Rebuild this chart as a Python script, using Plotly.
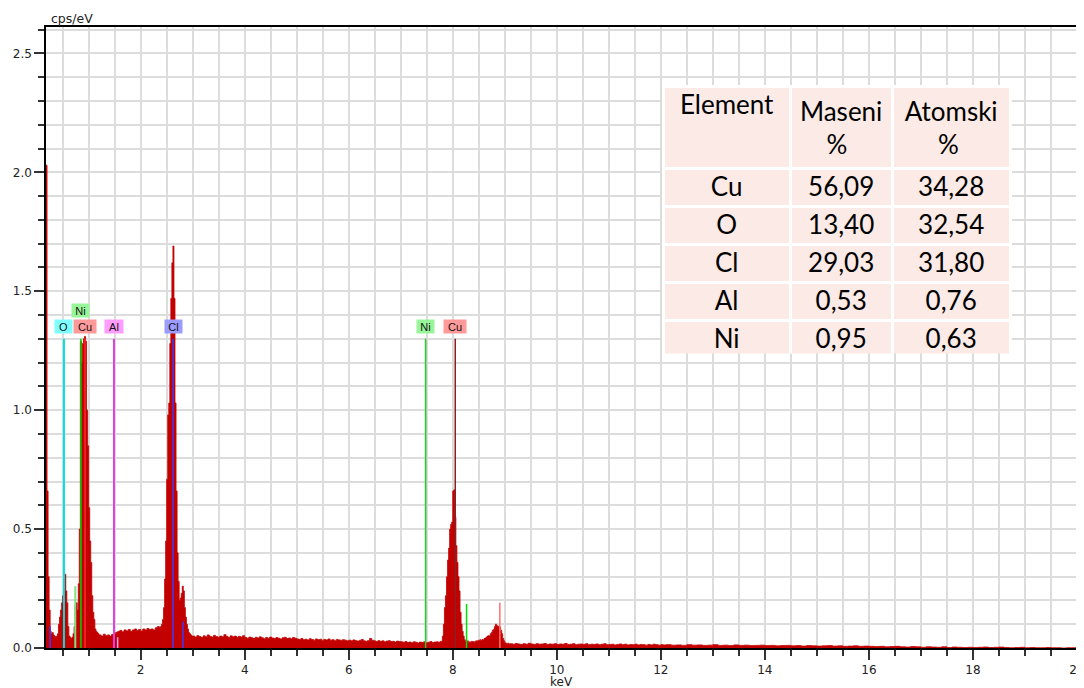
import plotly.graph_objects as go

# ---------------- data ----------------
# spectrum segments: channel start energy (keV), channel width (keV), values (cps/eV)
seg_a_start, seg_a_step = 0.18, 0.02
seg_a_cps = [2.03, 0.66, 0.30, 0.16, 0.07, 0.06, 0.065, 0.055, 0.05, 0.045,
             0.05, 0.06, 0.10, 0.13, 0.16, 0.19, 0.22, 0.25, 0.31, 0.24,
             0.19, 0.09, 0.05, 0.045, 0.04, 0.045, 0.06, 0.09, 0.18, 0.19,
             0.16, 0.27, 0.50, 1.29, 1.20, 1.28, 1.30, 1.31, 1.29, 1.00,
             0.85, 0.59, 0.45, 0.36, 0.22, 0.15, 0.12, 0.08, 0.07, 0.065,
             0.06]
seg_b_start, seg_b_step = 1.20, 0.04
seg_b_cps = [0.055, 0.05, 0.058, 0.052, 0.055, 0.05, 0.057, 0.06, 0.066, 0.07,
             0.074, 0.068, 0.076, 0.072, 0.078, 0.07, 0.076, 0.08, 0.074, 0.078,
             0.072, 0.08, 0.076, 0.082, 0.078, 0.08, 0.076, 0.085, 0.09]
seg_c_start, seg_c_step = 2.36, 0.02
seg_c_cps = [0.085, 0.09, 0.10, 0.12, 0.17, 0.29, 0.45, 0.71, 0.98, 1.03,
             1.28, 1.47, 1.62, 1.69, 1.47, 1.03, 0.66, 0.40, 0.28, 0.20,
             0.21, 0.23, 0.26, 0.24, 0.17, 0.13, 0.10, 0.08, 0.065, 0.06,
             0.055, 0.05]
seg_d_start, seg_d_step = 3.00, 0.04
seg_d_cps = [0.050, 0.046, 0.052, 0.048, 0.044, 0.051, 0.047, 0.055, 0.049, 0.046,
             0.053, 0.048, 0.045, 0.050, 0.047, 0.056, 0.049, 0.044, 0.051, 0.047,
             0.050, 0.045, 0.049, 0.046, 0.052,
             0.044, 0.041, 0.046, 0.043, 0.040, 0.045, 0.042, 0.047, 0.043, 0.039,
             0.044, 0.041, 0.046, 0.042, 0.040, 0.044, 0.041, 0.038, 0.043, 0.045,
             0.040, 0.042, 0.039, 0.044, 0.041,
             0.038, 0.036, 0.040, 0.035, 0.037, 0.034, 0.039, 0.036, 0.033, 0.038,
             0.035, 0.037, 0.032, 0.036, 0.034, 0.038, 0.033, 0.035, 0.031, 0.036,
             0.034, 0.032, 0.035, 0.033, 0.030,
             0.033, 0.030, 0.034, 0.031, 0.029, 0.032, 0.036, 0.030, 0.028, 0.031,
             0.040, 0.033, 0.030, 0.027, 0.031, 0.028, 0.030, 0.026, 0.029, 0.031,
             0.027, 0.028, 0.025, 0.029, 0.027,
             0.026, 0.024, 0.027, 0.023, 0.025, 0.022, 0.026, 0.024, 0.021, 0.025,
             0.023, 0.026, 0.022, 0.024, 0.027, 0.023, 0.025, 0.026, 0.024, 0.028]
seg_e_start, seg_e_step = 7.80, 0.02
seg_e_cps = [0.05, 0.10, 0.17, 0.22, 0.30, 0.37, 0.42, 0.50, 0.52, 0.53,
             0.66, 0.665, 0.55, 0.43, 0.36, 0.30, 0.24, 0.15, 0.10, 0.07,
             0.05, 0.035, 0.028, 0.025, 0.03, 0.022, 0.026, 0.024, 0.028, 0.025,
             0.027, 0.024, 0.03, 0.028, 0.032, 0.03, 0.035, 0.031, 0.036, 0.034,
             0.04, 0.042, 0.045, 0.05, 0.052, 0.05, 0.06, 0.065, 0.075, 0.078,
             0.09, 0.10, 0.095, 0.09, 0.092, 0.088, 0.075, 0.06, 0.04, 0.03,
             0.022, 0.02, 0.018, 0.02, 0.017]
seg_f_start, seg_f_step = 9.10, 0.05
seg_f_cps = [0.018, 0.016, 0.019, 0.017, 0.015, 0.018, 0.016, 0.020, 0.017, 0.015,
             0.018, 0.016, 0.017, 0.019, 0.015, 0.017, 0.016, 0.018, 0.015, 0.017,
             0.016, 0.019, 0.015, 0.016, 0.018, 0.014, 0.016, 0.017, 0.015, 0.018,
             0.014, 0.016, 0.015, 0.017, 0.014, 0.016, 0.018, 0.014, 0.015, 0.016,
             0.013, 0.015, 0.017, 0.014, 0.016, 0.013, 0.015, 0.014, 0.016, 0.013,
             0.015, 0.014, 0.012, 0.015, 0.013, 0.016, 0.014, 0.012, 0.014, 0.013]
seg_g_start, seg_g_step = 12.10, 0.10
seg_g_cps = [0.014, 0.012, 0.013, 0.011, 0.014, 0.012, 0.013, 0.011, 0.012, 0.014,
             0.011, 0.012, 0.010, 0.013, 0.011, 0.012, 0.010, 0.011, 0.012,
             0.010, 0.011, 0.009, 0.010, 0.011, 0.009, 0.010, 0.008, 0.010, 0.009,
             0.008, 0.009, 0.010, 0.008, 0.009, 0.007, 0.008, 0.009, 0.007, 0.008,
             0.007, 0.006, 0.007, 0.005, 0.006, 0.007, 0.005, 0.004, 0.006, 0.005,
             0.003, 0.005, 0.004, 0.003, 0.005, 0.002, 0.004, 0.003, 0.002, 0.003,
             0.002, 0.003, 0.004, 0.002, 0.003, 0.004, 0.002, 0.001, 0.002, 0.003,
             0.001, 0.002, 0.001, 0.001, 0.002, 0.001, 0.001, 0.000, 0.001, 0.001,
             0.0]

# element marker lines
line_names = ["Cl L", "O Kα", "Ni Ll", "Ni Lα", "Cu Lα", "Al Kα", "Al Kβ",
              "Cl Kα", "Cl Kβ", "Ni Kα", "Cu Kα", "Ni Kβ", "Cu Kβ"]
line_energies = [0.26, 0.525, 0.743, 0.851, 0.930, 1.487, 1.557,
                 2.622, 2.815, 7.478, 8.048, 8.265, 8.905]
line_heights = [0.09, 1.30, 0.26, 1.30, 1.30, 1.30, 0.045,
                1.30, 0.11, 1.30, 1.30, 0.185, 0.19]

# element labels
label_texts = ["O", "Ni", "Cu", "Al", "Cl", "Ni", "Cu"]
label_energies = [0.525, 0.851, 0.930, 1.487, 2.622, 7.478, 8.048]
label_rows = [0, 1, 0, 0, 0, 0, 0]

# composition table
table_header_top = ["Element", "Maseni", "Atomski"]
table_header_bottom = ["", "%", "%"]
table_elements = ["Cu", "O", "Cl", "Al", "Ni"]
table_mass = ["56,09", "13,40", "29,03", "0,53", "0,95"]
table_atomic = ["34,28", "32,54", "31,80", "0,76", "0,63"]

x_ticks = [2, 4, 6, 8, 10, 12, 14, 16, 18, 20]

# ---------------- styles ----------------
RED = "#c20000"
line_colors = {
    "Cl L": "#3a3aff", "O Kα": "#00e0e0", "Ni Ll": "#7fe07f", "Ni Lα": "#00d400",
    "Cu Lα": "#ff2a2a", "Al Kα": "#e040e0", "Al Kβ": "#ff9cff", "Cl Kα": "#3a3aff",
    "Cl Kβ": "#3a3aff", "Ni Kα": "#22cc22", "Cu Kα": "#8a2020", "Ni Kβ": "#00e000",
    "Cu Kβ": "#ff7070",
}
line_widths = {"O Kα": 2, "Al Kα": 2, "Ni Ll": 2}
label_bg = {"O": "#80ffff", "Ni": "#99f599", "Cu": "#ff9a9a", "Al": "#ff9cff", "Cl": "#9c9cff"}
label_w = {"O": 17, "Ni": 17, "Cu": 22, "Al": 18, "Cl": 17}
row_levels = [1.353, 1.417]
GRID = "#dcdcdc"
CELL = "#fbeae5"
NBSP = "\u00a0"
TICKFONT = dict(family="DejaVu Sans", size=12, color="#222")


def centered_under(top, bottom, pad):
    # header line break with the second line nudged to sit centred under the first
    if not bottom:
        return top
    return top + "<br>" + NBSP * pad + bottom


# ---------------- build spectrum ----------------
segments = [(seg_a_start, seg_a_step, seg_a_cps), (seg_b_start, seg_b_step, seg_b_cps),
            (seg_c_start, seg_c_step, seg_c_cps), (seg_d_start, seg_d_step, seg_d_cps),
            (seg_e_start, seg_e_step, seg_e_cps), (seg_f_start, seg_f_step, seg_f_cps),
            (seg_g_start, seg_g_step, seg_g_cps)]
energy, cps = [], []
for start, step, vals in segments:
    for i, v in enumerate(vals):
        energy.append(round(start + i * step, 4))
        cps.append(v)

fig = go.Figure()
fig.add_trace(go.Scatter(x=energy, y=cps, mode="lines",
                         line=dict(color=RED, width=0.8, shape="hv"),
                         fill="tozeroy", fillcolor=RED, hoverinfo="skip",
                         showlegend=False))

for name, e, h in zip(line_names, line_energies, line_heights):
    fig.add_trace(go.Scatter(x=[e, e], y=[0, h], mode="lines",
                             line=dict(color=line_colors[name], width=line_widths.get(name, 1.5)),
                             hoverinfo="skip", showlegend=False))

for t, e, r in zip(label_texts, label_energies, label_rows):
    fig.add_annotation(x=e, y=row_levels[r], xref="x", yref="y", text=t,
                       showarrow=False, bgcolor=label_bg[t], width=label_w[t], height=13,
                       borderpad=0, font=dict(family="Liberation Sans", size=11, color="#111"))

header_pads = [0, 4, 5]
header_values = [centered_under(t, b, p) for t, b, p in
                 zip(table_header_top, table_header_bottom, header_pads)]

fig.add_trace(go.Table(
    domain=dict(x=[0.5986, 0.9353], y=[0.474, 0.904]),
    columnwidth=[127, 102, 118],
    header=dict(values=header_values, height=72, align="center",
                fill_color=CELL, line=dict(color="white", width=3),
                font=dict(family="Lato", size=26, color="black")),
    cells=dict(values=[table_elements, table_mass, table_atomic], height=38, align="center",
               fill_color=CELL, line=dict(color="white", width=3),
               font=dict(family="Lato", size=26, color="black")),
))

# the page body keeps its default 8 px margin, so the figure is sized to sit inside it
fig.update_layout(
    width=1076, height=680,
    margin=dict(l=38, r=7, t=19, b=40),
    paper_bgcolor="white", plot_bgcolor="white",
    font=dict(family="DejaVu Sans", size=12, color="#222"),
    showlegend=False,
)
fig.update_xaxes(range=[0.18, 20.001], tickmode="array", tickvals=x_ticks, automargin=False,
                 ticklabeloverflow="allow", tickfont=TICKFONT,
                 ticks="outside", ticklen=10, tickwidth=1.5, tickcolor="#333",
                 showline=True, linecolor="black", linewidth=1.5, mirror=True,
                 showgrid=True, gridcolor=GRID, gridwidth=1.5, zeroline=False,
                 minor=dict(dtick=0.5, tick0=0, ticks="outside", ticklen=6, tickwidth=1.5,
                            tickcolor="#333", showgrid=True, gridcolor=GRID, gridwidth=1.5))
fig.update_yaxes(range=[0, 2.611], dtick=0.5, tick0=0, tickformat=".1f", automargin=False,
                 ticklabeloverflow="allow", tickfont=TICKFONT,
                 ticks="outside", ticklen=10, tickwidth=1.5, tickcolor="#333",
                 showline=True, linecolor="black", linewidth=1.5, mirror=True,
                 showgrid=True, gridcolor=GRID, gridwidth=1.5, zeroline=False,
                 minor=dict(dtick=0.1, ticks="outside", ticklen=6, tickwidth=1.5,
                            tickcolor="#333", showgrid=True, gridcolor=GRID, gridwidth=1.5))
fig.add_annotation(text="cps/eV", xref="paper", yref="paper", x=0, y=1,
                   xanchor="left", yanchor="bottom", xshift=3, yshift=-1,
                   showarrow=False, font=dict(size=12.5, color="#222"))
fig.add_annotation(text="keV", xref="paper", yref="paper", x=0.5, y=0,
                   xanchor="center", yanchor="middle", yshift=-34,
                   showarrow=False, font=dict(size=12, color="#222"))

fig.write_html("out.html")
